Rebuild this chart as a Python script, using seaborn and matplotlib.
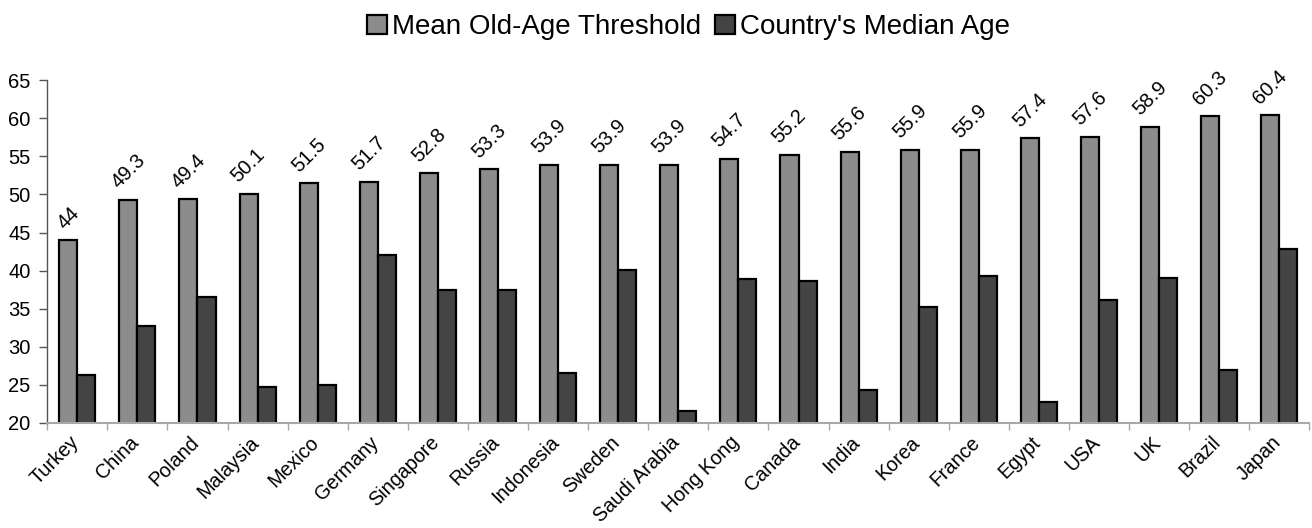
import numpy as np
import pandas as pd
import matplotlib
matplotlib.use("Agg")
import matplotlib.pyplot as plt
import matplotlib.transforms as mtransforms
import seaborn as sns

countries = ["Turkey", "China", "Poland", "Malaysia", "Mexico", "Germany", "Singapore",
             "Russia", "Indonesia", "Sweden", "Saudi Arabia", "Hong Kong", "Canada",
             "India", "Korea", "France", "Egypt", "USA", "UK", "Brazil", "Japan"]
mean_threshold = [44, 49.3, 49.4, 50.1, 51.5, 51.7, 52.8, 53.3, 53.9, 53.9, 53.9,
                  54.7, 55.2, 55.6, 55.9, 55.9, 57.4, 57.6, 58.9, 60.3, 60.4]
median_age = [26.3, 32.7, 36.5, 24.7, 25.0, 42.1, 37.5, 37.4, 26.6, 40.1, 21.6,
              38.9, 38.7, 24.3, 35.2, 39.3, 22.8, 36.2, 39.0, 26.9, 42.9]
series_names = ["Mean Old-Age Threshold", "Country's Median Age"]
y_ticks = [20, 25, 30, 35, 40, 45, 50, 55, 60, 65]

sns.set_theme(style="white")
plt.rcParams["font.family"] = ["Liberation Sans", "DejaVu Sans"]
plt.rcParams["text.color"] = "black"
plt.rcParams["xtick.labelcolor"] = "black"
plt.rcParams["ytick.labelcolor"] = "black"

df = pd.DataFrame({
    "country": countries * 2,
    "value": mean_threshold + median_age,
    "series": [series_names[0]] * len(countries) + [series_names[1]] * len(countries),
})

fig = plt.figure(figsize=(13.12, 5.28), dpi=100)
ax = fig.add_axes([0.036, 0.199, 0.962, 0.649])

sns.barplot(data=df, x="country", y="value", hue="series", order=countries,
            hue_order=series_names, palette=["#8c8c8c", "#444444"],
            width=0.6, edgecolor="black", linewidth=1.6, ax=ax, legend=True)

ax.set_ylim(20, 65)
ax.set_xlim(-0.5, len(countries) - 0.5)
ax.set_yticks(y_ticks)
ax.set_xlabel("")
ax.set_ylabel("")

# value labels above the threshold bars
for i, v in enumerate(mean_threshold):
    ax.text(i - 0.15, v + 1.0, f"{v:g}", rotation=45, ha="center", va="bottom",
            fontsize=14.5, color="black")

for s in ["top", "right"]:
    ax.spines[s].set_visible(False)
ax.spines["left"].set_color("#555555")
ax.spines["bottom"].set_color("#a8a8a8")
ax.spines["left"].set_linewidth(1.0)
ax.spines["bottom"].set_linewidth(1.5)

ax.tick_params(axis="y", which="major", length=6, width=1, color="#555555",
               labelsize=14.5, pad=6, left=True, labelcolor="black")
ax.set_xticks(range(len(countries)))
ax.set_xticklabels(countries, rotation=45, ha="right", va="top",
                   rotation_mode="anchor", fontsize=14.2, color="black")
ax.tick_params(axis="x", which="major", length=0, pad=7)
shift = mtransforms.ScaledTranslation(-6 / 72, 0, fig.dpi_scale_trans)
for lbl in ax.get_xticklabels():
    lbl.set_transform(lbl.get_transform() + shift)
ax.set_xticks(np.arange(-0.5, len(countries), 1.0), minor=True)
ax.tick_params(axis="x", which="minor", length=5, width=1, color="#a8a8a8",
               bottom=True, direction="out")

handles, labels = ax.get_legend_handles_labels()
ax.get_legend().remove()
leg = fig.legend(handles, labels, loc="upper center", bbox_to_anchor=(0.525, 1.02),
                 ncol=2, frameon=False, fontsize=20, handlelength=0.7, handleheight=0.7,
                 handletextpad=0.2, columnspacing=0.5)
for t in leg.get_texts():
    t.set_color("black")

fig.savefig("out.png", dpi=100)
